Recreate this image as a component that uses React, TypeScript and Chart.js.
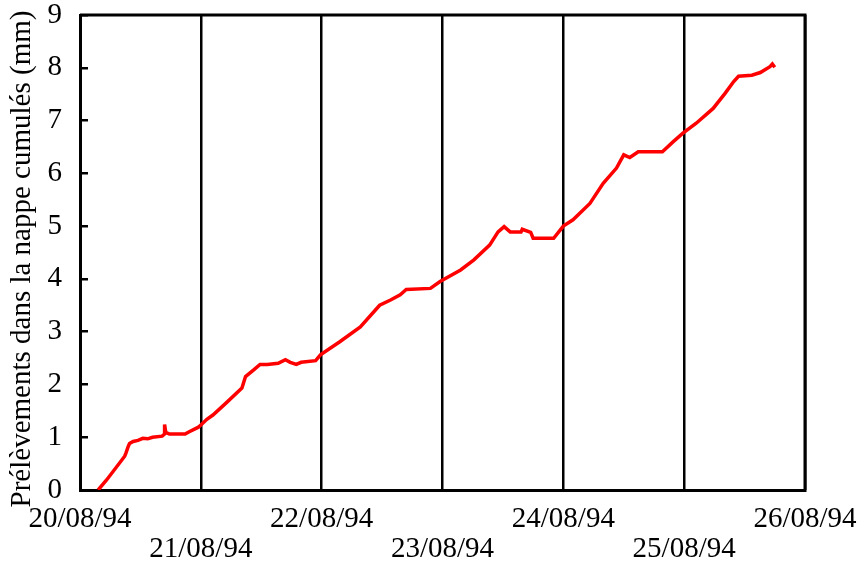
import React, { useEffect, useRef } from "react";
import { Chart, registerables } from "chart.js";

Chart.register(...registerables);

const dayLabels = ["20/08/94", "21/08/94", "22/08/94", "23/08/94", "24/08/94", "25/08/94", "26/08/94"];

// time in days since 20/08/94 00:00
const days = [
  0.15, 0.22, 0.37, 0.38, 0.40, 0.41, 0.44, 0.48, 0.52, 0.56, 0.60, 0.68, 0.70, 0.70, 0.71, 0.74,
  0.87, 0.90, 0.98, 1.05, 1.10, 1.21, 1.34, 1.37, 1.44, 1.49, 1.55, 1.64, 1.70, 1.74, 1.79, 1.83,
  1.95, 1.99, 2.15, 2.32, 2.48, 2.57, 2.65, 2.70, 2.90, 2.98, 3.15, 3.26, 3.39, 3.46, 3.51, 3.56,
  3.65, 3.66, 3.73, 3.75, 3.92, 4.00, 4.08, 4.22, 4.33, 4.44, 4.50, 4.55, 4.62, 4.82, 4.91, 4.99,
  5.10, 5.24, 5.34, 5.41, 5.45, 5.56, 5.63, 5.71, 5.73, 5.75,
];

// cumulative withdrawals (mm)
const values = [
  0.0, 0.19, 0.64, 0.70, 0.83, 0.88, 0.92, 0.94, 0.98, 0.97, 1.0, 1.02, 1.06, 1.24, 1.09, 1.06,
  1.06, 1.10, 1.19, 1.34, 1.42, 1.65, 1.93, 2.15, 2.28, 2.38, 2.38, 2.40, 2.47, 2.42, 2.38, 2.42,
  2.45, 2.56, 2.81, 3.09, 3.50, 3.60, 3.70, 3.80, 3.82, 3.95, 4.17, 4.36, 4.64, 4.89, 4.99, 4.89,
  4.89, 4.94, 4.88, 4.77, 4.77, 5.0, 5.12, 5.43, 5.81, 6.10, 6.35, 6.30, 6.41, 6.41, 6.60, 6.76,
  6.95, 7.23, 7.52, 7.74, 7.84, 7.86, 7.91, 8.02, 8.07, 8.01,
];

const yTitle = "Prélèvements dans la nappe cumulés (mm)";
const FONT = "'Liberation Serif', 'Times New Roman', serif";

export default function App() {
  const ref = useRef<HTMLCanvasElement>(null);

  useEffect(() => {
    if (!ref.current) return;

    const framePlugin = {
      id: "frame",
      afterDraw(chart: any) {
        const { ctx, chartArea } = chart;
        ctx.save();
        ctx.strokeStyle = "#000";
        ctx.lineWidth = 3;
        ctx.beginPath();
        ctx.moveTo(chartArea.left, chartArea.top);
        ctx.lineTo(chartArea.right, chartArea.top);
        ctx.lineTo(chartArea.right, chartArea.bottom);
        ctx.stroke();
        ctx.restore();
      },
    };

    const yTitlePlugin = {
      id: "ytitle",
      afterDraw(chart: any) {
        const { ctx } = chart;
        ctx.save();
        ctx.translate(22, 259);
        ctx.rotate(-Math.PI / 2);
        ctx.font = `29px ${FONT}`;
        ctx.fillStyle = "#000";
        ctx.textAlign = "center";
        ctx.textBaseline = "middle";
        ctx.fillText(yTitle, 0, 0);
        ctx.restore();
      },
    };

    const chart = new Chart(ref.current, {
      type: "line",
      data: {
        datasets: [
          {
            data: days.map((d, i) => ({ x: d, y: values[i] })),
            borderColor: "#ff0000",
            borderWidth: 3.5,
            pointRadius: 0,
            tension: 0,
            fill: false,
          },
        ],
      },
      options: {
        animation: false,
        responsive: false,
        layout: { padding: { top: 15, right: 57, left: 0, bottom: 0 } },
        plugins: { legend: { display: false }, tooltip: { enabled: false } },
        scales: {
          x: {
            type: "linear",
            min: 0,
            max: 6,
            afterFit(scale: any) {
              scale.height = 74;
              scale.paddingLeft = 0;
              scale.paddingRight = 0;
            },
            ticks: {
              stepSize: 1,
              autoSkip: false,
              maxRotation: 0,
              minRotation: 0,
              padding: 14,
              color: "#000",
              font: { family: FONT, size: 29, lineHeight: "30px" },
              callback: (v: any) => {
                const i = Math.round(Number(v));
                const lbl = dayLabels[i] ?? "";
                return i % 2 === 0 ? [lbl, ""] : ["", lbl];
              },
            },
            grid: {
              display: true,
              drawOnChartArea: true,
              drawTicks: false,
              color: "#000",
              lineWidth: 2.5,
            },
            border: { display: true, color: "#000", width: 3 },
          },
          y: {
            min: 0,
            max: 9,
            afterFit(scale: any) {
              scale.width = 80;
              scale.paddingTop = 0;
              scale.paddingBottom = 0;
            },
            ticks: {
              stepSize: 1,
              padding: 26,
              color: "#000",
              font: { family: FONT, size: 29 },
            },
            grid: {
              display: true,
              drawOnChartArea: false,
              drawTicks: true,
              tickLength: -8,
              color: "#000",
              lineWidth: 2.5,
            },
            border: { display: true, color: "#000", width: 3 },
          },
        },
      },
      plugins: [framePlugin, yTitlePlugin],
    });

    return () => chart.destroy();
  }, []);

  return (
    <div style={{ position: "fixed", left: 0, top: 0, width: 862, height: 564, background: "#fff" }}>
      <canvas ref={ref} width={862} height={564} style={{ display: "block" }} />
    </div>
  );
}
